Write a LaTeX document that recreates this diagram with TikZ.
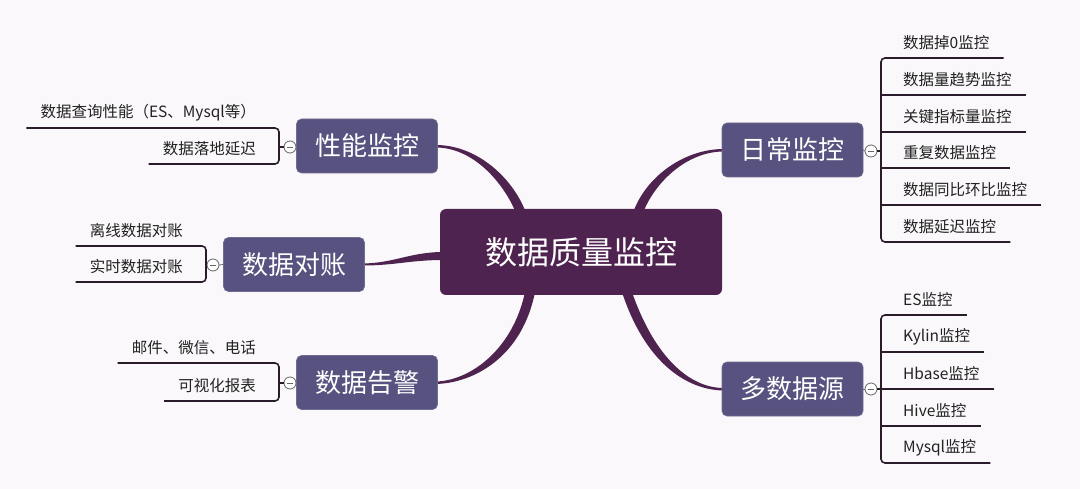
\documentclass[tikz,border=0pt]{standalone}
\usepackage{fontspec}
\newfontfamily\cjk{Noto Sans CJK SC}
\usetikzlibrary{calc}
\definecolor{bgc}{HTML}{FAF8FA}
\definecolor{cen}{HTML}{4F2350}
\definecolor{brn}{HTML}{57527F}
\definecolor{lnc}{HTML}{2A1B2A}
\definecolor{txc}{HTML}{222222}
\pgfdeclarelayer{bg}\pgfdeclarelayer{conn}\pgfsetlayers{bg,conn,main}
\begin{document}
\begin{tikzpicture}[x=1pt,y=-1pt,
 central/.style={fill=cen, rounded corners=6pt, minimum width=282pt, minimum height=86pt, text=white, font=\cjk\fontsize{32}{36}\selectfont, inner sep=0pt},
 branch/.style={fill=brn, draw=brn!85!white, line width=0.6pt, rounded corners=5pt, minimum width=141pt, minimum height=54pt, text=white, font=\cjk\fontsize{26}{30}\selectfont, inner sep=0pt},
 leaf/.style={font=\cjk\fontsize{15.5}{18}\selectfont, text=txc, inner xsep=14pt, inner ysep=0pt, minimum height=31pt},
 knob/.style={circle, draw=gray!80!black, fill=white, line width=0.8pt, minimum size=12pt, inner sep=0pt, path picture={\draw[gray!80!black, line width=0.8pt] ([xshift=-3pt]path picture bounding box.center) -- ([xshift=3pt]path picture bounding box.center);}},
 brk/.style={draw=lnc, line width=1.6pt, rounded corners=4pt},
 tie/.style={draw=gray!80!black, line width=0.8pt},
 link/.style={fill=cen, draw=none}
]
\useasboundingbox (0,0) rectangle (1080,489);
\begin{pgfonlayer}{bg}
\fill[bgc] (0,0) rectangle (1080,489);
\end{pgfonlayer}

% main and branch nodes
\node[central] (center) at (581,252) {数据质量监控};
\node[branch] (perf) at (367,146) {性能监控};
\node[branch] (recon) at (294,264.5) {数据对账};
\node[branch] (alert) at (367,382.5) {数据告警};
\node[branch] (daily) at (792.5,150) {日常监控};
\node[branch] (multi) at (792.5,389) {多数据源};

% knobs
\node[knob] (op) at (290,147) {};
\node[knob] (or) at (213,265) {};
\node[knob] (oa) at (290,383) {};
\node[knob] (od) at (871,151) {};
\node[knob] (om) at (871,389) {};
\coordinate (jp) at (279,147);
\coordinate (jr) at (206,265);
\coordinate (ja) at (279,383);
\coordinate (jd) at (881,151);
\coordinate (jm) at (881,389);

% leaves left
\node[leaf, anchor=south east] (p1) at (270,128) {数据查询性能（ES、Mysql等）};
\node[leaf, anchor=south east] (p2) at (270,164) {数据落地延迟};
\node[leaf, anchor=south east] (r1) at (197,246) {离线数据对账};
\node[leaf, anchor=south east] (r2) at (197,282) {实时数据对账};
\node[leaf, anchor=south east] (a1) at (270,363) {邮件、微信、电话};
\node[leaf, anchor=south east] (a2) at (270,401) {可视化报表};

% leaves right
\node[leaf, anchor=south west] (d1) at (889,58) {数据掉0监控};
\node[leaf, anchor=south west] (d2) at (889,95) {数据量趋势监控};
\node[leaf, anchor=south west] (d3) at (889,132) {关键指标量监控};
\node[leaf, anchor=south west] (d4) at (889,168) {重复数据监控};
\node[leaf, anchor=south west] (d5) at (889,205) {数据同比环比监控};
\node[leaf, anchor=south west] (d6) at (889,242) {数据延迟监控};
\node[leaf, anchor=south west] (m1) at (889,315) {ES监控};
\node[leaf, anchor=south west] (m2) at (889,352) {Kylin监控};
\node[leaf, anchor=south west] (m3) at (889,389) {Hbase监控};
\node[leaf, anchor=south west] (m4) at (889,426) {Hive监控};
\node[leaf, anchor=south west] (m5) at (889,463) {Mysql监控};

% brackets
\draw[brk] (p1.south west) -- (p1.south -| jp) -- (p2.south -| jp) -- (p2.south west);
\draw[brk] (op.west) -- (jp);
\draw[brk] (r1.south west) -- (r1.south -| jr) -- (r2.south -| jr) -- (r2.south west);
\draw[brk] (or.west) -- (jr);
\draw[brk] (a1.south west) -- (a1.south -| ja) -- (a2.south -| ja) -- (a2.south west);
\draw[brk] (oa.west) -- (ja);
\draw[brk] (d1.south east) -- (d1.south -| jd) -- (d6.south -| jd) -- (d6.south east);
\foreach \k in {d2,d3,d4,d5} \draw[brk] (\k.south east) -- (\k.south -| jd);
\draw[brk] (od.east) -- (jd);
\draw[brk] (m1.south east) -- (m1.south -| jm) -- (m5.south -| jm) -- (m5.south east);
\foreach \k in {m2,m3,m4} \draw[brk] (\k.south east) -- (\k.south -| jm);
\draw[brk] (om.east) -- (jm);
\draw[tie] (op.east) -- (perf.west);
\draw[tie] (or.east) -- (recon.west);
\draw[tie] (oa.east) -- (alert.west);
\draw[tie] (od.west) -- (daily.east);
\draw[tie] (om.west) -- (multi.east);

% tapered links
\begin{pgfonlayer}{conn}
\fill[link] ($(perf.east)+(-2,-1)$) .. controls (477,145) and (513,178) .. ($(center.north)+(-55,4)$) -- ($(center.north)+(-65,4)$) .. controls (503,182) and (473,147.5) .. ($(perf.east)+(-2,1.5)$) -- cycle;
\fill[link] ($(recon.east)+(-2,-1)$) .. controls (395,263) and (410,252) .. ($(center.west)+(4,0)$) -- ($(center.west)+(4,8)$) .. controls (410,260) and (395,265.5) .. ($(recon.east)+(-2,1)$) -- cycle;
\fill[link] ($(alert.east)+(-2,1.5)$) .. controls (474,383) and (522,357) .. ($(center.south)+(-46,-3)$) -- ($(center.south)+(-56,-3)$) .. controls (512,352) and (468,381) .. ($(alert.east)+(-2,-1)$) -- cycle;
\fill[link] ($(daily.west)+(2,-1)$) .. controls (683,149) and (645,178) .. ($(center.north)+(52,4)$) -- ($(center.north)+(62,4)$) .. controls (655,182) and (687,151.5) .. ($(daily.west)+(2,1.5)$) -- cycle;
\fill[link] ($(multi.west)+(2,1.5)$) .. controls (686,390) and (645,362) .. ($(center.south)+(41,-3)$) -- ($(center.south)+(51,-3)$) .. controls (655,358) and (690,388) .. ($(multi.west)+(2,-1)$) -- cycle;
\end{pgfonlayer}
\end{tikzpicture}
\end{document}
